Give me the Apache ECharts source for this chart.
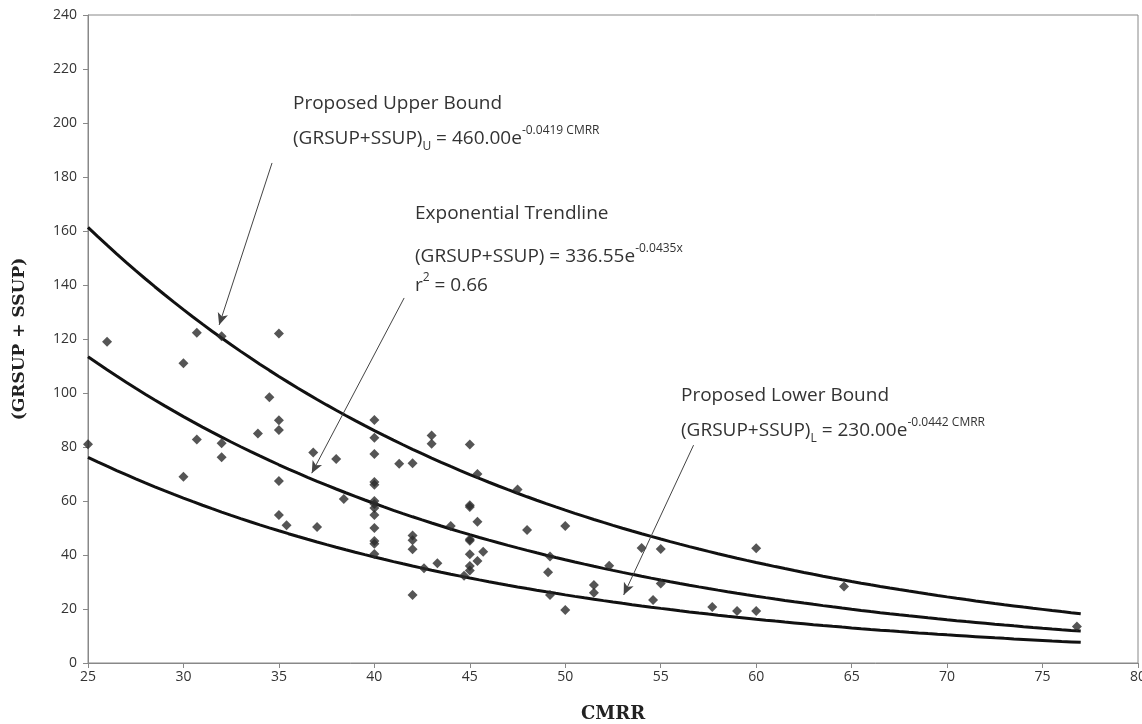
<!DOCTYPE html>
<html>
<head>
<meta charset="utf-8">
<script src="https://cdn.jsdelivr.net/npm/echarts@6/dist/echarts.min.js"></script>
<style>
html,body{margin:0;padding:0;background:#fff;}
#chart{width:1142px;height:724px;}
</style>
</head>
<body>
<div id="chart"></div>
<script>
// Observed data points: [CMRR, GRSUP+SSUP]
const cmrr = [25,26,30,30,30.7,30.7,32,32,32,33.9,34.5,35,35,35,35,35,35.4,36.8,37,38,38.4,
  40,40,40,40,40,40,40,40,40,40,40,40,40,
  41.3,42,42,42,42,42,42.6,43,43,43.3,44,44.7,
  45,45,45,45,45,45,45,45,45.4,45.4,45.4,45.7,47.5,48,49.2,49.1,49.2,50,50,
  51.5,51.5,52.3,54,54.6,55,55,57.7,59,60,60,64.6,76.8];
const sump = [81,119,111,69,122.3,82.8,121,81.4,76.2,85,98.4,122,89.9,86.3,67.4,54.8,51,78,50.4,75.6,60.7,
  90,83.4,77.4,67,66,60,58.9,57.4,54.8,50,45.2,44.2,40.4,
  73.8,74,47.2,45.5,42.1,25.2,35.1,84.3,81.2,36.9,50.7,32.3,
  80.9,58.4,57.8,45.8,45.3,40.3,35.9,34.3,70,52.3,37.8,41.2,64.3,49.3,39.4,33.6,25.2,50.7,19.6,
  28.9,26,36,42.6,23.3,42.2,29.4,20.7,19.3,42.5,19.3,28.3,13.5];

// Curve equations as printed on the chart: y = a * exp(b * CMRR)
const upperCoef = [460.00, -0.0419];
const trendCoef = [336.55, -0.0435];
const lowerCoef = [230.00, -0.0442];
const curveRange = [25, 77];

const xTicks = [25,30,35,40,45,50,55,60,65,70,75,80];
const yTicks = [0,20,40,60,80,100,120,140,160,180,200,220,240];

function curve(c){
  const out=[];
  for(let x=curveRange[0]; x<=curveRange[1]+1e-9; x+=0.5){
    out.push([x, c[0]*Math.exp(c[1]*x)]);
  }
  return out;
}
const points = cmrr.map((x,i)=>[x,sump[i]]);

const chart = echarts.init(document.getElementById('chart'));
const FONT = '"Open Sans", sans-serif';
const txtColor = '#333';
const lineStyleC = {color:'#111', width:3};

function arrow(a,b){
  return [{coord:a, symbol:'none'},{coord:b, symbol:'arrow'}];
}
const M = {fontFamily:FONT,fontSize:19,lineHeight:28,verticalAlign:'middle'};
const SUP = {fontFamily:FONT,fontSize:12,lineHeight:28,verticalAlign:'top'};
const SUB = {fontFamily:FONT,fontSize:12,lineHeight:28,verticalAlign:'bottom'};

chart.setOption({
  animation:false,
  backgroundColor:'#fff',
  grid:{left:88,right:4,top:15,bottom:61,containLabel:false,outerBoundsMode:'none',
    show:true,borderColor:'#888',borderWidth:1,backgroundColor:'transparent'},
  xAxis:{type:'value',min:25,max:80,interval:5,
    name:'CMRR',nameLocation:'middle',nameGap:42,
    nameTextStyle:{fontFamily:'"DejaVu Serif", serif',fontWeight:'bold',fontSize:18,color:'#222'},
    axisLine:{lineStyle:{color:'#888'}},axisTick:{show:true,length:5,lineStyle:{color:'#888'}},
    axisLabel:{fontFamily:FONT,fontSize:14,color:txtColor,margin:7},
    splitLine:{show:false}},
  yAxis:{type:'value',min:0,max:240,interval:20,
    name:'(GRSUP + SSUP)',nameLocation:'middle',nameGap:60,nameRotate:90,
    nameTextStyle:{fontFamily:'"DejaVu Serif", serif',fontWeight:'bold',fontSize:17,color:'#222'},
    axisLine:{lineStyle:{color:'#888'}},axisTick:{show:true,length:5,lineStyle:{color:'#888'}},
    axisLabel:{fontFamily:FONT,fontSize:14,color:txtColor,margin:11},
    splitLine:{show:false}},
  series:[
    {type:'line',data:curve(upperCoef),showSymbol:false,smooth:false,lineStyle:lineStyleC,z:2},
    {type:'line',data:curve(trendCoef),showSymbol:false,smooth:false,lineStyle:lineStyleC,z:2},
    {type:'line',data:curve(lowerCoef),showSymbol:false,smooth:false,lineStyle:lineStyleC,z:2},
    {type:'scatter',data:points,symbol:'diamond',symbolSize:10,itemStyle:{color:'#2b2b2b'},z:3,
      markLine:{silent:true,symbolSize:[8,12],lineStyle:{color:'#444',width:1,type:'solid'},label:{show:false},
        data:[
          arrow([34.64,185.2],[31.87,125.2]),
          arrow([41.56,135.2],[36.72,70.3]),
          arrow([56.72,80.7],[53.06,25.2])
        ]}}
  ],
  graphic:[
    {type:'text',left:293,top:94,style:{text:'Proposed Upper Bound',font:'19px '+FONT,fill:txtColor}},
    {type:'text',left:293,top:125,style:{text:'{m|(GRSUP+SSUP)}{sub|U}{m| = 460.00e}{sup|-0.0419 CMRR}',
      fill:txtColor,rich:{m:M,sub:SUB,sup:SUP}}},
    {type:'text',left:415,top:204,style:{text:'Exponential Trendline',font:'19px '+FONT,fill:txtColor}},
    {type:'text',left:415,top:243,style:{text:'{m|(GRSUP+SSUP) = 336.55e}{sup|-0.0435x}',
      fill:txtColor,rich:{m:M,sup:SUP}}},
    {type:'text',left:415,top:272,style:{text:'{m|r}{sup|2}{m| = 0.66}',
      fill:txtColor,rich:{m:M,sup:SUP}}},
    {type:'text',left:681,top:386,style:{text:'Proposed Lower Bound',font:'19px '+FONT,fill:txtColor}},
    {type:'text',left:681,top:417,style:{text:'{m|(GRSUP+SSUP)}{sub|L}{m| = 230.00e}{sup|-0.0442 CMRR}',
      fill:txtColor,rich:{m:M,sub:SUB,sup:SUP}}}
  ]
});
</script>
</body>
</html>
